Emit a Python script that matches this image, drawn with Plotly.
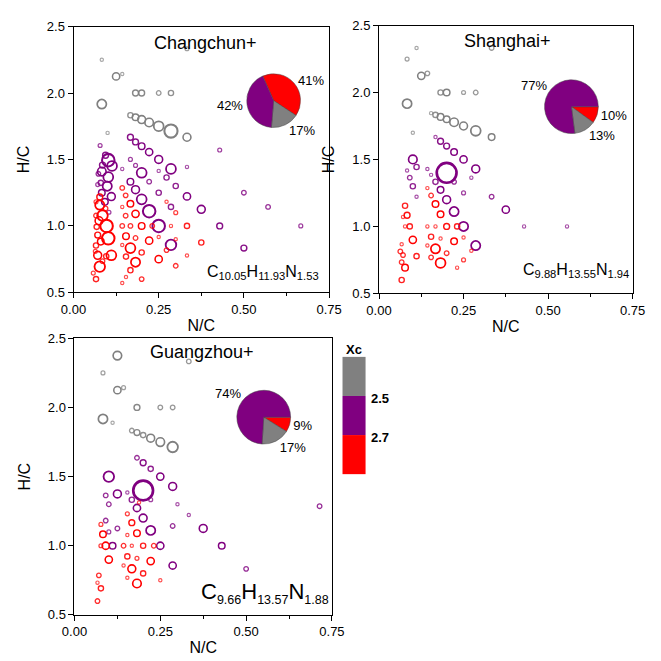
import plotly.graph_objects as go

# ---------------- data ----------------
# each point: (N/C, H/C, relative abundance)
cc_gray = [(0.083, 2.25, 3), (0.125, 2.125, 9), (0.143, 2.143, 3), (0.333, 2.333, 4), (0.083, 1.917, 12),
           (0.182, 2.0, 7), (0.2, 2.0, 7), (0.25, 2.0, 5), (0.286, 2.0, 6), (0.167, 1.833, 6),
           (0.182, 1.818, 8), (0.2, 1.8, 10), (0.222, 1.778, 11), (0.25, 1.75, 13), (0.286, 1.714, 18),
           (0.333, 1.667, 10), (0.1, 1.7, 3)]
cc_purple = [(0.078, 1.605, 4), (0.094, 1.532, 7), (0.102, 1.495, 17), (0.113, 1.451, 13), (0.085, 1.458, 7),
             (0.083, 1.409, 11), (0.073, 1.392, 5), (0.102, 1.368, 13), (0.080, 1.324, 6), (0.099, 1.299, 12),
             (0.071, 1.311, 4), (0.083, 1.25, 8), (0.111, 1.221, 10), (0.092, 1.181, 8), (0.104, 1.103, 4),
             (0.167, 1.667, 7), (0.182, 1.632, 7), (0.2, 1.6, 8), (0.222, 1.556, 9), (0.25, 1.5, 10),
             (0.286, 1.429, 13), (0.167, 1.5, 4), (0.182, 1.455, 4), (0.143, 1.429, 3), (0.2, 1.4, 13),
             (0.222, 1.333, 5), (0.25, 1.414, 3), (0.273, 1.364, 6), (0.333, 1.444, 3), (0.167, 1.333, 8),
             (0.182, 1.273, 10), (0.2, 1.2, 13), (0.222, 1.111, 17), (0.25, 1.0, 17), (0.286, 0.857, 14),
             (0.25, 1.25, 6), (0.3, 1.3, 6), (0.333, 1.222, 9), (0.286, 1.143, 6), (0.375, 1.125, 10),
             (0.429, 1.0, 7), (0.429, 1.571, 4), (0.5, 1.25, 5), (0.5, 0.833, 7), (0.571, 1.143, 5),
             (0.667, 1.0, 4)]
cc_red = [(0.077, 1.218, 7), (0.066, 1.181, 4), (0.077, 1.157, 12), (0.094, 1.132, 5), (0.085, 1.078, 14),
          (0.066, 1.078, 5), (0.075, 1.039, 10), (0.097, 1.0, 17), (0.068, 0.993, 6), (0.071, 0.931, 7),
          (0.102, 0.907, 17), (0.080, 0.882, 8), (0.066, 0.853, 6), (0.064, 0.809, 4), (0.111, 0.779, 13),
          (0.071, 0.779, 10), (0.096, 0.772, 6), (0.085, 0.735, 5), (0.077, 0.694, 14), (0.058, 0.645, 4),
          (0.066, 0.6, 6),
          (0.143, 1.286, 5), (0.153, 1.23, 5), (0.167, 1.167, 8), (0.153, 1.077, 5), (0.182, 1.091, 9),
          (0.143, 1.0, 5), (0.167, 1.0, 5), (0.2, 1.0, 8), (0.231, 1.0, 5), (0.286, 1.0, 3),
          (0.333, 1.0, 6), (0.154, 0.923, 8), (0.182, 0.909, 5), (0.222, 0.889, 9), (0.25, 0.917, 3),
          (0.3, 0.9, 3), (0.143, 0.857, 3), (0.167, 0.833, 13), (0.2, 0.8, 6), (0.273, 0.818, 5),
          (0.375, 0.875, 6), (0.154, 0.769, 6), (0.182, 0.727, 12), (0.25, 0.75, 9), (0.333, 0.778, 3),
          (0.167, 0.667, 6), (0.3, 0.7, 5), (0.154, 0.615, 3), (0.143, 0.571, 3), (0.2, 0.6, 5),
          (0.143, 1.143, 3), (0.273, 1.182, 3), (0.3, 1.1, 4)]

sh_gray = [(0.111, 2.333, 3), (0.083, 2.25, 4), (0.125, 2.125, 9), (0.143, 2.143, 5), (0.333, 2.333, 5),
           (0.083, 1.917, 12), (0.182, 2.0, 6), (0.2, 2.0, 8), (0.25, 2.0, 4), (0.286, 2.0, 5),
           (0.154, 1.846, 3), (0.167, 1.833, 6), (0.182, 1.818, 8), (0.2, 1.8, 8), (0.222, 1.778, 11),
           (0.25, 1.75, 10), (0.286, 1.714, 13), (0.333, 1.667, 8), (0.1, 1.7, 3)]
sh_purple = [(0.167, 1.667, 3), (0.182, 1.636, 7), (0.2, 1.6, 7), (0.222, 1.556, 8), (0.25, 1.5, 9),
             (0.286, 1.429, 10), (0.1, 1.5, 11), (0.111, 1.444, 6), (0.083, 1.417, 3), (0.143, 1.429, 3),
             (0.154, 1.385, 3), (0.2, 1.4, 28), (0.091, 1.364, 5), (0.167, 1.333, 6), (0.222, 1.333, 5),
             (0.273, 1.364, 3), (0.1, 1.3, 6), (0.182, 1.273, 8), (0.111, 1.222, 3), (0.25, 1.25, 4),
             (0.2, 1.2, 10), (0.333, 1.222, 5), (0.222, 1.111, 12), (0.375, 1.125, 9), (0.25, 1.0, 12),
             (0.429, 1.0, 3), (0.556, 1.0, 3), (0.286, 0.857, 12)]
sh_red = [(0.077, 1.154, 6), (0.083, 1.083, 7), (0.071, 1.071, 3), (0.091, 1.0, 6), (0.077, 1.0, 3),
          (0.1, 0.9, 9), (0.067, 0.867, 3), (0.063, 0.813, 5), (0.071, 0.786, 5), (0.067, 0.733, 5),
          (0.077, 0.692, 8), (0.111, 0.778, 6), (0.067, 0.6, 6), (0.143, 1.286, 3), (0.154, 1.231, 5),
          (0.167, 1.167, 8), (0.182, 1.091, 8), (0.143, 1.0, 3), (0.167, 1.0, 3), (0.2, 1.0, 7),
          (0.231, 1.0, 6), (0.154, 0.923, 6), (0.182, 0.909, 3), (0.222, 0.889, 8), (0.25, 0.917, 3),
          (0.143, 0.857, 3), (0.167, 0.833, 12), (0.2, 0.8, 5), (0.273, 0.818, 3), (0.154, 0.769, 5),
          (0.182, 0.727, 13), (0.25, 0.75, 4), (0.231, 0.692, 3)]

gz_gray = [(0.125, 2.375, 11), (0.083, 2.25, 4), (0.125, 2.125, 9), (0.143, 2.143, 4), (0.333, 2.333, 5),
           (0.083, 1.917, 12), (0.111, 1.889, 3), (0.182, 2.0, 7), (0.25, 2.0, 5), (0.286, 2.0, 5),
           (0.167, 1.833, 5), (0.182, 1.818, 7), (0.2, 1.8, 6), (0.222, 1.778, 10), (0.25, 1.75, 11),
           (0.286, 1.714, 14)]
gz_purple = [(0.182, 1.636, 5), (0.2, 1.6, 7), (0.222, 1.556, 6), (0.25, 1.5, 9), (0.286, 1.429, 10),
             (0.1, 1.5, 14), (0.125, 1.375, 10), (0.091, 1.364, 5), (0.154, 1.385, 3), (0.2, 1.4, 28),
             (0.167, 1.333, 6), (0.222, 1.333, 4), (0.1, 1.3, 5), (0.182, 1.273, 9), (0.3, 1.3, 3),
             (0.333, 1.222, 3), (0.091, 1.182, 5), (0.2, 1.2, 10), (0.125, 1.125, 5), (0.286, 1.143, 5),
             (0.222, 1.111, 12), (0.375, 1.125, 10), (0.1, 1.1, 4), (0.111, 1.0, 8), (0.25, 1.0, 9),
             (0.429, 1.0, 8), (0.286, 0.857, 9), (0.5, 0.833, 5), (0.714, 1.286, 5)]
gz_red = [(0.077, 1.154, 4), (0.083, 1.083, 8), (0.077, 1.0, 4), (0.091, 1.0, 9), (0.1, 0.9, 9),
          (0.071, 0.786, 5), (0.067, 0.733, 3), (0.077, 0.692, 6), (0.067, 0.6, 5), (0.154, 1.231, 4),
          (0.167, 1.167, 7), (0.154, 1.077, 3), (0.182, 1.091, 8), (0.143, 1.0, 5), (0.167, 1.0, 3),
          (0.2, 1.0, 6), (0.231, 1.0, 5), (0.154, 0.923, 6), (0.182, 0.909, 4), (0.222, 0.889, 9),
          (0.143, 0.857, 3), (0.167, 0.833, 10), (0.2, 0.8, 6), (0.25, 0.75, 3), (0.154, 0.769, 3),
          (0.182, 0.727, 11), (0.188, 1.313, 3)]

# pie shares, order: Xc>2.7 (red), Xc<2.5 (gray), 2.5-2.7 (purple)
pie_labels = ["Xc>2.7", "Xc<2.5", "2.5-2.7"]
cc_pie = [41, 17, 42]
sh_pie = [10, 13, 77]
gz_pie = [9, 17, 74]

panel_titles = ["Changchun+", "Shanghai+", "Guangzhou+"]
formulas = ["C<sub>10.05</sub>H<sub>11.93</sub>N<sub>1.53</sub>",
            "C<sub>9.88</sub>H<sub>13.55</sub>N<sub>1.94</sub>",
            "C<sub><span style='font-size:12.5px'>9.66</span></sub>H<sub><span style='font-size:12.5px'>13.57</span></sub>N<sub><span style='font-size:12.5px'>1.88</span></sub>"]
xc_bounds = ["2.5", "2.7"]

# ---------------- styling ----------------
GRAY, PURPLE, RED = "#808080", "#800080", "#FF0000"
W = H = 661
FONT = "Liberation Sans, Arial, sans-serif"


def px(x):  # page pixel -> paper fraction
    return x / W


def py(y):
    return 1 - y / H


fig = go.Figure()

panels = [
    dict(xd=(63, 329), yd=(20, 292), data=(cc_gray, cc_purple, cc_red), pie=cc_pie, rot=336,
         pc=(271.3, 95.8), tpos=(200, 37), fpos=(321, 272), fsize=16),
    dict(xd=(381, 645), yd=(19, 293), data=(sh_gray, sh_purple, sh_red), pie=sh_pie, rot=90,
         pc=(581.3, 102), tpos=(515, 35), fpos=(643, 270), fsize=16),
    dict(xd=(64, 332), yd=(339, 622), data=(gz_gray, gz_purple, gz_red), pie=gz_pie, rot=90,
         pc=(261, 419.7), tpos=(197, 353), fpos=(331, 600), fsize=22),
]

annotations = []
for i, p in enumerate(panels):
    sfx = "" if i == 0 else str(i + 1)
    xa, ya = "x" + sfx, "y" + sfx
    for pts, col in zip(p["data"], (GRAY, PURPLE, RED)):
        ab = [q[2] for q in pts]
        fig.add_trace(go.Scatter(
            x=[q[0] for q in pts], y=[q[1] for q in pts], mode="markers",
            xaxis=xa, yaxis=ya, showlegend=False, hoverinfo="skip",
            marker=dict(symbol="circle-open", color=col,
                        size=[1.3 + a * 0.66 for a in ab],
                        opacity=[min(1.0, 0.5 + a / 16) for a in ab],
                        line=dict(color=col, width=[1.0 + a * 0.06 for a in ab]))))
    common = dict(showline=True, mirror=True, linecolor="black", linewidth=1, showgrid=False,
                  zeroline=False, ticks="outside", ticklen=5, tickcolor="black", tickwidth=1,
                  tickfont=dict(family=FONT, size=13, color="black"))
    fig.layout["xaxis" + sfx] = dict(
        domain=[px(p["xd"][0]), px(p["xd"][1])], anchor=ya, range=[0, 0.75],
        tickvals=[0, 0.25, 0.5, 0.75], ticktext=["0.00", "0.25", "0.50", "0.75"],
        minor=dict(dtick=0.125, ticks="outside", ticklen=3, tickcolor="black"),
        title=dict(text="N/C", font=dict(family=FONT, size=16, color="black"), standoff=3),
        **common)
    fig.layout["yaxis" + sfx] = dict(
        domain=[py(p["yd"][1]), py(p["yd"][0])], anchor=xa, range=[0.5, 2.5],
        tickvals=[0.5, 1.0, 1.5, 2.0, 2.5], ticktext=["0.5", "1.0", "1.5", "2.0", "2.5"],
        title=dict(text="H/C", font=dict(family=FONT, size=16, color="black"), standoff=13),
        **common)
    cx, cy = p["pc"]
    r = 28
    fig.add_trace(go.Pie(
        labels=pie_labels, values=p["pie"], sort=False, direction="clockwise", rotation=p["rot"],
        marker=dict(colors=[RED, GRAY, PURPLE], line=dict(color="#444444", width=0.5)),
        texttemplate="%{value}%", textposition="outside",
        textfont=dict(family=FONT, size=13, color="black"),
        domain=dict(x=[px(cx - r), px(cx + r)], y=[py(cy + r), py(cy - r)]),
        showlegend=False, hoverinfo="skip"))
    annotations.append(dict(x=px(p["tpos"][0]), y=py(p["tpos"][1]), xref="paper", yref="paper",
                            text=panel_titles[i], showarrow=False, xanchor="center", yanchor="middle",
                            font=dict(family=FONT, size=18, color="black")))
    annotations.append(dict(x=px(p["fpos"][0]), y=py(p["fpos"][1]), xref="paper", yref="paper",
                            text=formulas[i], showarrow=False, xanchor="right", yanchor="middle",
                            font=dict(family=FONT, size=p["fsize"], color="black")))

# Xc legend
shapes = []
lx0, lx1 = 343, 367
for (y0, y1), col in zip([(358, 398), (398, 438), (438, 478)], [GRAY, PURPLE, RED]):
    shapes.append(dict(type="rect", xref="paper", yref="paper", x0=px(lx0), x1=px(lx1),
                       y0=py(y1), y1=py(y0), fillcolor=col, line=dict(width=0)))
annotations.append(dict(x=px(355), y=py(350), xref="paper", yref="paper", text="<b>Xc</b>",
                        showarrow=False, xanchor="center", yanchor="middle",
                        font=dict(family=FONT, size=13, color="black")))
for yv, t in zip([401, 440], xc_bounds):
    annotations.append(dict(x=px(371), y=py(yv), xref="paper", yref="paper", text="<b>%s</b>" % t,
                            showarrow=False, xanchor="left", yanchor="middle",
                            font=dict(family=FONT, size=13, color="black")))

fig.update_layout(width=W, height=H, margin=dict(l=0, r=0, t=0, b=0),
                  paper_bgcolor="white", plot_bgcolor="white",
                  annotations=annotations, shapes=shapes)

fig.write_html("out.html")
